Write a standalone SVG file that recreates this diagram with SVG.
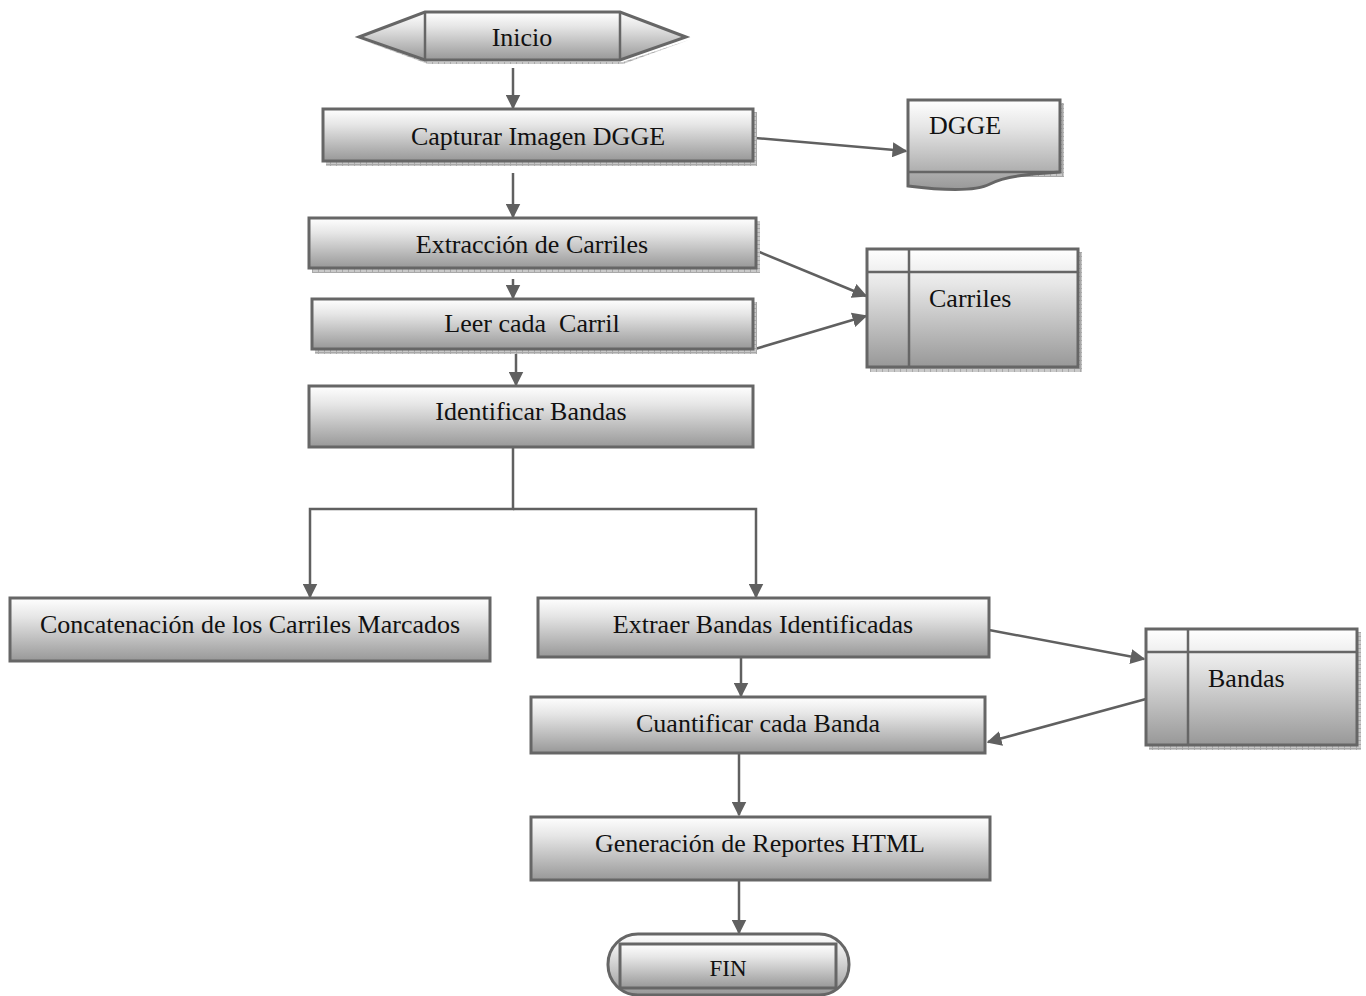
<svg xmlns="http://www.w3.org/2000/svg" width="1366" height="996" viewBox="0 0 1366 996">
  <defs>
    <linearGradient id="fillGrad" x1="0" y1="0" x2="0" y2="1">
      <stop offset="0" stop-color="#ffffff"/>
      <stop offset="0.3" stop-color="#e6e6e6"/>
      <stop offset="1" stop-color="#989898"/>
    </linearGradient>
    <pattern id="hatch" width="6" height="4" patternUnits="userSpaceOnUse">
      <rect width="6" height="4" fill="#c9c9c9"/>
      <path d="M0 0.5H6M0.5 0V4" stroke="#a8a8a8" stroke-width="1"/>
    </pattern>
    <marker id="arrow" viewBox="0 0 10 10" refX="9" refY="5" markerWidth="6" markerHeight="6" markerUnits="strokeWidth" orient="auto">
      <path d="M0 0L10 5L0 10Z" fill="#606060"/>
    </marker>
  </defs>
  <style>
    .box { fill: url(#fillGrad); stroke: #666666; stroke-width: 3; }
    .line { fill: none; stroke: #666666; stroke-width: 2.5; }
    .shadow { fill: url(#hatch); }
    .conn { fill: none; stroke: #606060; stroke-width: 2.5; }
    text { font-family: "Liberation Serif", "Times New Roman", serif; font-size: 26px; fill: #111111; }
    .mid { text-anchor: middle; }
  </style>

  <rect width="1366" height="996" fill="#ffffff"/>

  <!-- connectors -->
  <g id="connectors">
    <line class="conn" x1="513" y1="68" x2="513" y2="108" marker-end="url(#arrow)"/>
    <line class="conn" x1="513" y1="173" x2="513" y2="217" marker-end="url(#arrow)"/>
    <line class="conn" x1="755" y1="138" x2="906" y2="151" marker-end="url(#arrow)"/>
    <line class="conn" x1="513" y1="279" x2="513" y2="298" marker-end="url(#arrow)"/>
    <line class="conn" x1="757" y1="251" x2="866" y2="296" marker-end="url(#arrow)"/>
    <line class="conn" x1="755" y1="349" x2="866" y2="316" marker-end="url(#arrow)"/>
    <line class="conn" x1="516" y1="351" x2="516" y2="385" marker-end="url(#arrow)"/>
    <polyline class="conn" points="513,447 513,509 310,509 310,597" marker-end="url(#arrow)"/>
    <polyline class="conn" points="513,509 756,509 756,597" marker-end="url(#arrow)"/>
    <line class="conn" x1="741" y1="658" x2="741" y2="696" marker-end="url(#arrow)"/>
    <line class="conn" x1="989" y1="630" x2="1144" y2="659" marker-end="url(#arrow)"/>
    <line class="conn" x1="1146" y1="699" x2="988" y2="742" marker-end="url(#arrow)"/>
    <line class="conn" x1="739" y1="754" x2="739" y2="815" marker-end="url(#arrow)"/>
    <line class="conn" x1="739" y1="881" x2="739" y2="933" marker-end="url(#arrow)"/>
  </g>

  <!-- start terminator -->
  <g id="inicio">
    <polygon class="shadow" points="362,40 428,64 623,64 689,40 623,62 428,62"/>
    <polygon class="box" points="359,37 425,12 620,12 686,37 620,60 425,60"/>
    <line class="line" x1="425" y1="12" x2="425" y2="60"/>
    <line class="line" x1="620" y1="12" x2="620" y2="60"/>
    <text class="mid" x="522" y="46">Inicio</text>
  </g>

  <g id="capturar">
    <rect class="shadow" x="326" y="162" width="430" height="4"/>
    <rect class="shadow" x="754" y="112" width="3" height="54"/>
    <rect class="box" x="323" y="109" width="430" height="52"/>
    <text class="mid" x="538" y="145">Capturar Imagen DGGE</text>
  </g>

  <!-- document store -->
  <g id="dgge">
    <rect class="shadow" x="1061" y="103" width="3" height="74"/>
    <rect class="shadow" x="911" y="173" width="153" height="4"/>
    <path class="box" d="M908 172V100H1060V172C1030 174 1005 176 990 184C975 192 940 190 908 186Z"/>
    <line class="line" x1="908" y1="172" x2="1060" y2="172"/>
    <text x="929" y="134">DGGE</text>
  </g>

  <g id="extraccion">
    <rect class="shadow" x="312" y="269" width="447" height="4"/>
    <rect class="shadow" x="757" y="221" width="3" height="52"/>
    <rect class="box" x="309" y="218" width="447" height="50"/>
    <text class="mid" x="532" y="253">Extracción de Carriles</text>
  </g>

  <g id="leer">
    <rect class="shadow" x="315" y="350" width="441" height="4"/>
    <rect class="shadow" x="754" y="302" width="3" height="52"/>
    <rect class="box" x="312" y="299" width="441" height="50"/>
    <text class="mid" x="532" y="332" xml:space="preserve">Leer cada  Carril</text>
  </g>

  <!-- data store -->
  <g id="carriles">
    <rect class="shadow" x="870" y="368" width="211" height="4"/>
    <rect class="shadow" x="1079" y="252" width="3" height="120"/>
    <rect class="box" x="867" y="249" width="211" height="118"/>
    <line class="line" x1="867" y1="272" x2="1078" y2="272"/>
    <line class="line" x1="909" y1="249" x2="909" y2="367"/>
    <text x="929" y="307">Carriles</text>
  </g>

  <g id="identificar">
    <rect class="box" x="309" y="386" width="444" height="61"/>
    <text class="mid" x="531" y="420">Identificar Bandas</text>
  </g>

  <g id="concatenacion">
    <rect class="box" x="10" y="598" width="480" height="63"/>
    <text class="mid" x="250" y="633">Concatenación de los Carriles Marcados</text>
  </g>

  <g id="extraer">
    <rect class="box" x="538" y="598" width="451" height="59"/>
    <text class="mid" x="763" y="633">Extraer Bandas Identificadas</text>
  </g>

  <g id="bandas">
    <rect class="shadow" x="1149" y="746" width="211" height="4"/>
    <rect class="shadow" x="1358" y="632" width="3" height="118"/>
    <rect class="box" x="1146" y="629" width="211" height="116"/>
    <line class="line" x1="1146" y1="652" x2="1357" y2="652"/>
    <line class="line" x1="1188" y1="629" x2="1188" y2="745"/>
    <text x="1208" y="687">Bandas</text>
  </g>

  <g id="cuantificar">
    <rect class="box" x="531" y="697" width="454" height="56"/>
    <text class="mid" x="758" y="732">Cuantificar cada Banda</text>
  </g>

  <g id="generacion">
    <rect class="box" x="531" y="817" width="459" height="63"/>
    <text class="mid" x="760" y="852">Generación de Reportes HTML</text>
  </g>

  <!-- end terminator -->
  <g id="fin">
    <rect class="box" x="608" y="934" width="241" height="61" rx="30" ry="30"/>
    <rect class="box" x="620" y="944" width="216" height="44"/>
    <text class="mid" x="728" y="976" style="font-size:23px">FIN</text>
  </g>
</svg>
